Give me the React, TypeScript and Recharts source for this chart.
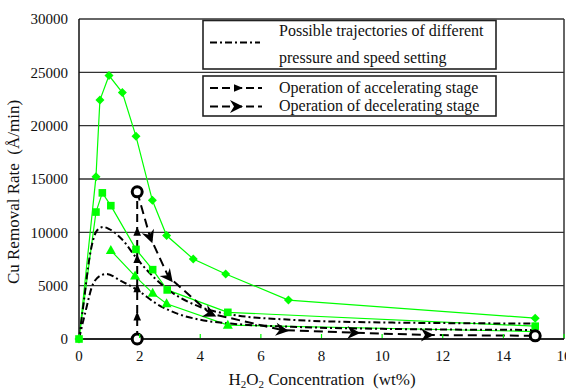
import React from "react";
import { LineChart, Line, XAxis, YAxis, CartesianGrid, ReferenceLine } from "recharts";

const FONT = '"Liberation Serif", "Times New Roman", serif';
const GREEN = "#00ff00";

const xTicks = [0, 2, 4, 6, 8, 10, 12, 14, 16];
const yTicks = [0, 5000, 10000, 15000, 20000, 25000, 30000];

// green measured series
const diamondSeries = [
  { x: 0, y: 0 }, { x: 0.56, y: 15200 }, { x: 0.69, y: 22400 }, { x: 0.99, y: 24700 },
  { x: 1.43, y: 23100 }, { x: 1.88, y: 19000 }, { x: 2.42, y: 13000 }, { x: 2.89, y: 9700 },
  { x: 3.77, y: 7500 }, { x: 4.84, y: 6100 }, { x: 6.91, y: 3650 }, { x: 15.05, y: 1950 },
];
const squareSeries = [
  { x: 0, y: 0 }, { x: 0.56, y: 11900 }, { x: 0.77, y: 13700 }, { x: 1.05, y: 12500 },
  { x: 1.88, y: 8400 }, { x: 2.43, y: 6500 }, { x: 2.91, y: 4600 }, { x: 4.91, y: 2500 },
  { x: 15.05, y: 1200 },
];
const triangleSeries = [
  { x: 1.05, y: 8300 }, { x: 1.85, y: 5900 }, { x: 2.43, y: 4300 }, { x: 2.89, y: 3300 },
  { x: 4.91, y: 1300 }, { x: 15.05, y: 700 },
];

// possible trajectories (dash-dot)
const upperCurve = [
  { x: 0, y: 0 }, { x: 0.15, y: 3300 }, { x: 0.35, y: 7700 }, { x: 0.6, y: 10200 },
  { x: 0.8, y: 10500 }, { x: 1.0, y: 10300 }, { x: 1.4, y: 9400 }, { x: 1.92, y: 7500 },
  { x: 2.5, y: 5700 }, { x: 3.0, y: 4500 }, { x: 4.0, y: 3000 }, { x: 5, y: 2300 },
  { x: 7, y: 1800 }, { x: 10, y: 1550 }, { x: 15, y: 1450 },
];
const lowerCurve = [
  { x: 0, y: 0 }, { x: 0.2, y: 2400 }, { x: 0.47, y: 5200 }, { x: 0.75, y: 6000 },
  { x: 0.91, y: 6100 }, { x: 1.35, y: 5500 }, { x: 1.92, y: 4600 }, { x: 2.56, y: 3300 },
  { x: 3.22, y: 2400 }, { x: 4, y: 1800 }, { x: 5, y: 1450 }, { x: 7, y: 1150 },
  { x: 10, y: 950 }, { x: 15, y: 850 },
];

// operation paths
const accelPath = [
  { x: 1.92, y: 0 }, { x: 1.92, y: 2100 }, { x: 1.92, y: 4750 }, { x: 1.92, y: 7500 },
  { x: 1.92, y: 10060 }, { x: 1.92, y: 13800 },
];
const decelPath = [
  { x: 1.92, y: 13800 }, { x: 2.34, y: 9600 }, { x: 2.95, y: 5840 }, { x: 4.32, y: 2400 },
  { x: 6.69, y: 840 }, { x: 9.05, y: 590 }, { x: 11.48, y: 375 }, { x: 15.05, y: 300 },
];

// px per unit, only used to turn arrows along the path
const KX = 485 / 16;
const KY = 320 / 30000;

const angleAt = (arr: { x: number; y: number }[], i: number) => {
  const a = arr[Math.max(i - 1, 0)];
  const b = arr[Math.min(i + 1, arr.length - 1)];
  return (Math.atan2(-(b.y - a.y) * KY, (b.x - a.x) * KX) * 180) / Math.PI;
};

const Diamond = (p: any) => {
  const { cx, cy, index } = p;
  const s = 4.5;
  return <polygon key={`dm-${index}`} points={`${cx},${cy - s} ${cx + s},${cy} ${cx},${cy + s} ${cx - s},${cy}`} fill={GREEN} />;
};
const Square = (p: any) => {
  const { cx, cy, index } = p;
  return <rect key={`sq-${index}`} x={cx - 3.8} y={cy - 3.8} width={7.6} height={7.6} fill={GREEN} />;
};
const Triangle = (p: any) => {
  const { cx, cy, index } = p;
  return <polygon key={`tr-${index}`} points={`${cx},${cy - 5.5} ${cx + 5},${cy + 3.5} ${cx - 5},${cy + 3.5}`} fill={GREEN} />;
};

const Ring = ({ cx, cy }: any) => <circle cx={cx} cy={cy} r={5} fill="#fff" stroke="#000" strokeWidth={3} />;

const SmallArrow = ({ cx, cy, angle }: any) => (
  <polygon points="5,0 -4,-3.8 -4,3.8" fill="#000" transform={`translate(${cx},${cy}) rotate(${angle})`} />
);
const BigArrow = ({ cx, cy, angle }: any) => (
  <polygon points="7,0 -6,-6.5 -2,0 -6,6.5" fill="#000" transform={`translate(${cx},${cy}) rotate(${angle})`} />
);

const AccelDot = (p: any) => {
  const { cx, cy, index } = p;
  if (index === 0) return <Ring key={`ac-${index}`} cx={cx} cy={cy} />;
  if (index === accelPath.length - 1) return <g key={`ac-${index}`} />;
  return <SmallArrow key={`ac-${index}`} cx={cx} cy={cy} angle={angleAt(accelPath, index)} />;
};
const DecelDot = (p: any) => {
  const { cx, cy, index } = p;
  if (index === 0 || index === decelPath.length - 1) return <Ring key={`dc-${index}`} cx={cx} cy={cy} />;
  return <BigArrow key={`dc-${index}`} cx={cx} cy={cy} angle={angleAt(decelPath, index)} />;
};

const XTick = (props: any) => {
  const { x, y, payload } = props;
  return (
    <g>
      <line x1={x} x2={x} y1={y - 1} y2={y - 5} stroke={GREEN} strokeWidth={1.2} />
      <text x={x} y={y + 22} textAnchor="middle" fontSize={15} fontFamily={FONT} fill="#111">
        {payload.value}
      </text>
    </g>
  );
};

const XTitle = () => (
  <text x={322} y={385} textAnchor="middle" fontSize={17} fontFamily={FONT} fill="#111" style={{ whiteSpace: "pre" }}>
    H<tspan fontSize={11} dy={3}>2</tspan>
    <tspan dy={-3}>O</tspan>
    <tspan fontSize={11} dy={3}>2</tspan>
    <tspan dy={-3}>{" Concentration  (wt%)"}</tspan>
  </text>
);

const YTitle = () => (
  <text
    x={19}
    y={192}
    textAnchor="middle"
    fontSize={17}
    fontFamily={FONT}
    fill="#111"
    transform="rotate(-90 19 192)"
    style={{ whiteSpace: "pre" }}
  >
    {"Cu Removal Rate  (Å/min)"}
  </text>
);

const LegendBoxes = () => (
  <svg width={566} height={130} style={{ position: "absolute", left: 0, top: 0, pointerEvents: "none" }}>
    <rect x={203} y={20.5} width={293} height={48.5} fill="#fff" stroke="#222" strokeWidth={1.6} />
    <line x1={210} x2={260} y1={42.5} y2={42.5} stroke="#000" strokeWidth={2} strokeDasharray="7 3 2 3" />
    <text x={279} y={36} fontSize={16} fontFamily={FONT} fill="#111">Possible trajectories of different</text>
    <text x={279} y={63} fontSize={16} fontFamily={FONT} fill="#111">pressure and speed setting</text>

    <rect x={203} y={76} width={293} height={40} fill="#fff" stroke="#222" strokeWidth={1.6} />
    <line x1={210} x2={262} y1={88} y2={88} stroke="#000" strokeWidth={2} strokeDasharray="8 4" />
    <SmallArrow cx={238} cy={88} angle={0} />
    <text x={279} y={93} fontSize={16} fontFamily={FONT} fill="#111">Operation of accelerating stage</text>
    <line x1={210} x2={262} y1={106.5} y2={106.5} stroke="#000" strokeWidth={2} strokeDasharray="8 4" />
    <BigArrow cx={236} cy={106.5} angle={0} />
    <text x={279} y={111} fontSize={16} fontFamily={FONT} fill="#111">Operation of decelerating stage</text>
  </svg>
);

export default function App() {
  return (
    <div style={{ position: "fixed", left: 0, top: 0, width: 566, height: 390, overflow: "hidden", background: "#fff" }}>
      <div style={{ position: "relative", width: 600, height: 390 }}>
        <LineChart width={600} height={390} margin={{ top: 19, right: 36, bottom: 21, left: 19 }}>
          <CartesianGrid horizontal vertical={false} stroke="#333" strokeWidth={1.3} />
          <XAxis
            type="number"
            dataKey="x"
            domain={[0, 16]}
            ticks={xTicks}
            interval={0}
            height={30}
            tickSize={0}
            tickMargin={0}
            tick={<XTick />}
            axisLine={{ stroke: "#111", strokeWidth: 1.5 }}
            label={<XTitle />}
          />
          <YAxis
            type="number"
            dataKey="y"
            domain={[0, 30000]}
            ticks={yTicks}
            interval={0}
            width={60}
            tickSize={0}
            tickMargin={11}
            tick={{ fontSize: 15, fill: "#111", fontFamily: FONT }}
            axisLine={{ stroke: "#111", strokeWidth: 1.5 }}
            label={<YTitle />}
          />
          <ReferenceLine x={16} stroke="#333" strokeWidth={1.5} />

          <Line data={diamondSeries} dataKey="y" type="linear" stroke={GREEN} strokeWidth={1.2} dot={Diamond} isAnimationActive={false} />
          <Line data={squareSeries} dataKey="y" type="linear" stroke={GREEN} strokeWidth={1.2} dot={Square} isAnimationActive={false} />
          <Line data={triangleSeries} dataKey="y" type="linear" stroke={GREEN} strokeWidth={1.2} dot={Triangle} isAnimationActive={false} />

          <Line data={upperCurve} dataKey="y" type="monotone" stroke="#000" strokeWidth={2} strokeDasharray="7 3 2 3" dot={false} isAnimationActive={false} />
          <Line data={lowerCurve} dataKey="y" type="monotone" stroke="#000" strokeWidth={2} strokeDasharray="7 3 2 3" dot={false} isAnimationActive={false} />

          <Line data={decelPath} dataKey="y" type="linear" stroke="#000" strokeWidth={2} strokeDasharray="9 5" dot={DecelDot} isAnimationActive={false} />
          <Line data={accelPath} dataKey="y" type="linear" stroke="#000" strokeWidth={2} strokeDasharray="8 5" dot={AccelDot} isAnimationActive={false} />
        </LineChart>
        <LegendBoxes />
      </div>
    </div>
  );
}
